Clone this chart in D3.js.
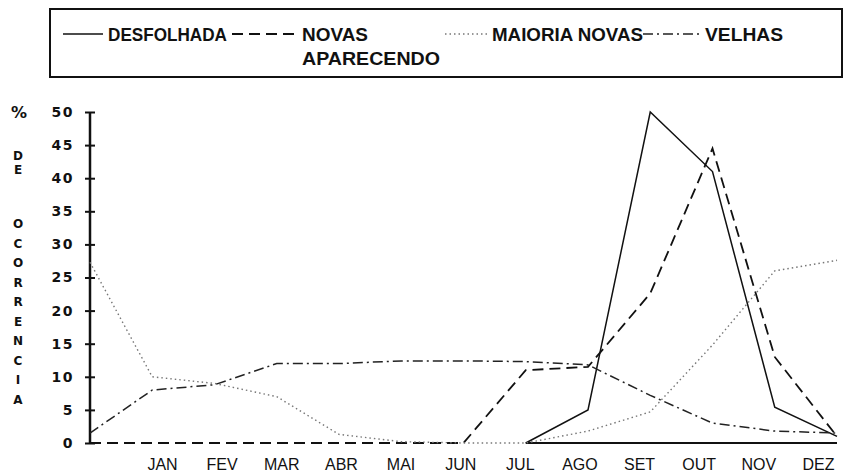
<!DOCTYPE html>
<html><head><meta charset="utf-8">
<script src="https://cdn.jsdelivr.net/npm/d3@7"></script>
<style>body{margin:0;background:#fff}</style>
</head><body>
<svg id="chart" width="848" height="474"></svg>
<script>
// 13 pontos: o primeiro fica sobre o eixo, depois JAN..DEZ
var meses = ["JAN","FEV","MAR","ABR","MAI","JUN","JUL","AGO","SET","OUT","NOV","DEZ"]
var yTicks = [0,5,10,15,20,25,30,35,40,45,50]
var desfolhada = [null,null,null,null,null,null,null,0,5,50,41,5.4,1]
var novasAparecendo = [0,0,0,0,0,0,0,11,11.5,22.6,44.5,13,1]
var maioriaNovas = [27.3,10,9,7,1.3,0.2,0,0,1.8,4.7,14.8,26,27.6]
var velhas = [1.5,8,8.8,12,12,12.4,12.4,12.3,11.8,7.2,3,1.8,1.5]
var letras1 = ["D","E"]
var letras2 = ["O","C","O","R","R","E","N","C","I","A"]

var series = [
  {nome: "DESFOLHADA", valores: desfolhada, dash: null, cor: "#111", w: 1.5},
  {nome: "NOVAS", nome2: "APARECENDO", valores: novasAparecendo, dash: "11,6", cor: "#111", w: 1.8},
  {nome: "MAIORIA NOVAS", valores: maioriaNovas, dash: "1.5,3", cor: "#777", w: 1.4},
  {nome: "VELHAS", valores: velhas, dash: "10,4,2,4", cor: "#222", w: 1.5}
]

var svg = d3.select("#chart")

var x = d3.scaleLinear().domain([0, 12]).range([90, 837])
var xLab = d3.scalePoint().domain(meses).range([162, 818])
var y = d3.scaleLinear().domain([0, 50]).range([443, 112])

// legenda
var leg = svg.append("g")
leg.append("rect").attr("x", 50).attr("y", 9).attr("width", 792).attr("height", 68)
  .attr("fill", "none").attr("stroke", "#111").attr("stroke-width", 2)

// [inicio amostra, fim amostra, x texto, largura texto, largura 2a linha]
var legPos = [[63, 103, 108, 119], [232, 297, 302, 66, 138], [445, 487, 492, 151], [643, 700, 705, 78]]
function legText(xx, yy, txt, len){
  leg.append("text").attr("x", xx).attr("y", yy).text(txt)
    .attr("font-family", "Liberation Sans, Arial, sans-serif").attr("font-weight", "bold")
    .attr("font-size", 18).attr("fill", "#111")
    .attr("textLength", len).attr("lengthAdjust", "spacingAndGlyphs")
}
series.forEach(function(s, i){
  var p = legPos[i]
  leg.append("line").attr("x1", p[0]).attr("x2", p[1]).attr("y1", 34).attr("y2", 34)
    .attr("stroke", s.cor).attr("stroke-width", s.w)
    .attr("stroke-dasharray", s.dash)
  legText(p[2], 41, s.nome, p[3])
  if(s.nome2) legText(p[2], 65, s.nome2, p[4])
})

// eixo y
var yAxis = svg.append("g").attr("transform", "translate(90,0)")
  .call(d3.axisLeft(y).tickValues(yTicks).tickSize(5).tickPadding(11))
yAxis.select(".domain").attr("stroke", "#111").attr("stroke-width", 2.5)
  .attr("d", "M0," + y(0) + "V" + y(50))
yAxis.selectAll(".tick line").attr("x1", -5).attr("x2", 5)
  .attr("stroke", "#111").attr("stroke-width", 2)
yAxis.selectAll(".tick text").attr("font-family", "DejaVu Sans, sans-serif")
  .attr("font-weight", "bold").attr("font-size", 14).attr("letter-spacing", 1.5)
  .attr("fill", "#111")

// titulo vertical
var tit = svg.append("g").attr("font-family", "DejaVu Sans, sans-serif")
  .attr("font-weight", "bold").attr("fill", "#111").attr("text-anchor", "middle")
tit.append("text").attr("x", 19).attr("y", 118).attr("font-size", 16).text("%")
tit.selectAll("text.l1").data(letras1).enter().append("text").attr("class", "l1")
  .attr("x", 18).attr("y", function(d, i){ return 160 + i*14 })
  .attr("font-size", 12).text(function(d){ return d })
tit.selectAll("text.l2").data(letras2).enter().append("text").attr("class", "l2")
  .attr("x", 18).attr("y", function(d, i){ return 228 + i*19.5 })
  .attr("font-size", 12).text(function(d){ return d })

// eixo x (so rotulos)
var xAxis = svg.append("g").attr("transform", "translate(0,456)")
  .call(d3.axisBottom(xLab).tickSize(0).tickPadding(3))
xAxis.select(".domain").remove()
xAxis.selectAll(".tick text").attr("font-family", "Liberation Sans, Arial, sans-serif")
  .attr("font-size", 16).attr("fill", "#111")

// linha de base solida de JUL a DEZ
svg.append("line").attr("x1", x(7)).attr("x2", x(12)).attr("y1", y(0)).attr("y2", y(0))
  .attr("stroke", "#111").attr("stroke-width", 2)

var line = d3.line()
  .defined(function(d){ return d != null })
  .x(function(d, i){ return x(i) })
  .y(function(d){ return y(d) })

svg.selectAll("path.serie").data(series).enter().append("path")
  .attr("class", "serie")
  .attr("d", function(s){ return line(s.valores) })
  .attr("fill", "none")
  .attr("stroke", function(s){ return s.cor })
  .attr("stroke-width", function(s){ return s.w })
  .attr("stroke-dasharray", function(s){ return s.dash })
</script>
</body></html>
